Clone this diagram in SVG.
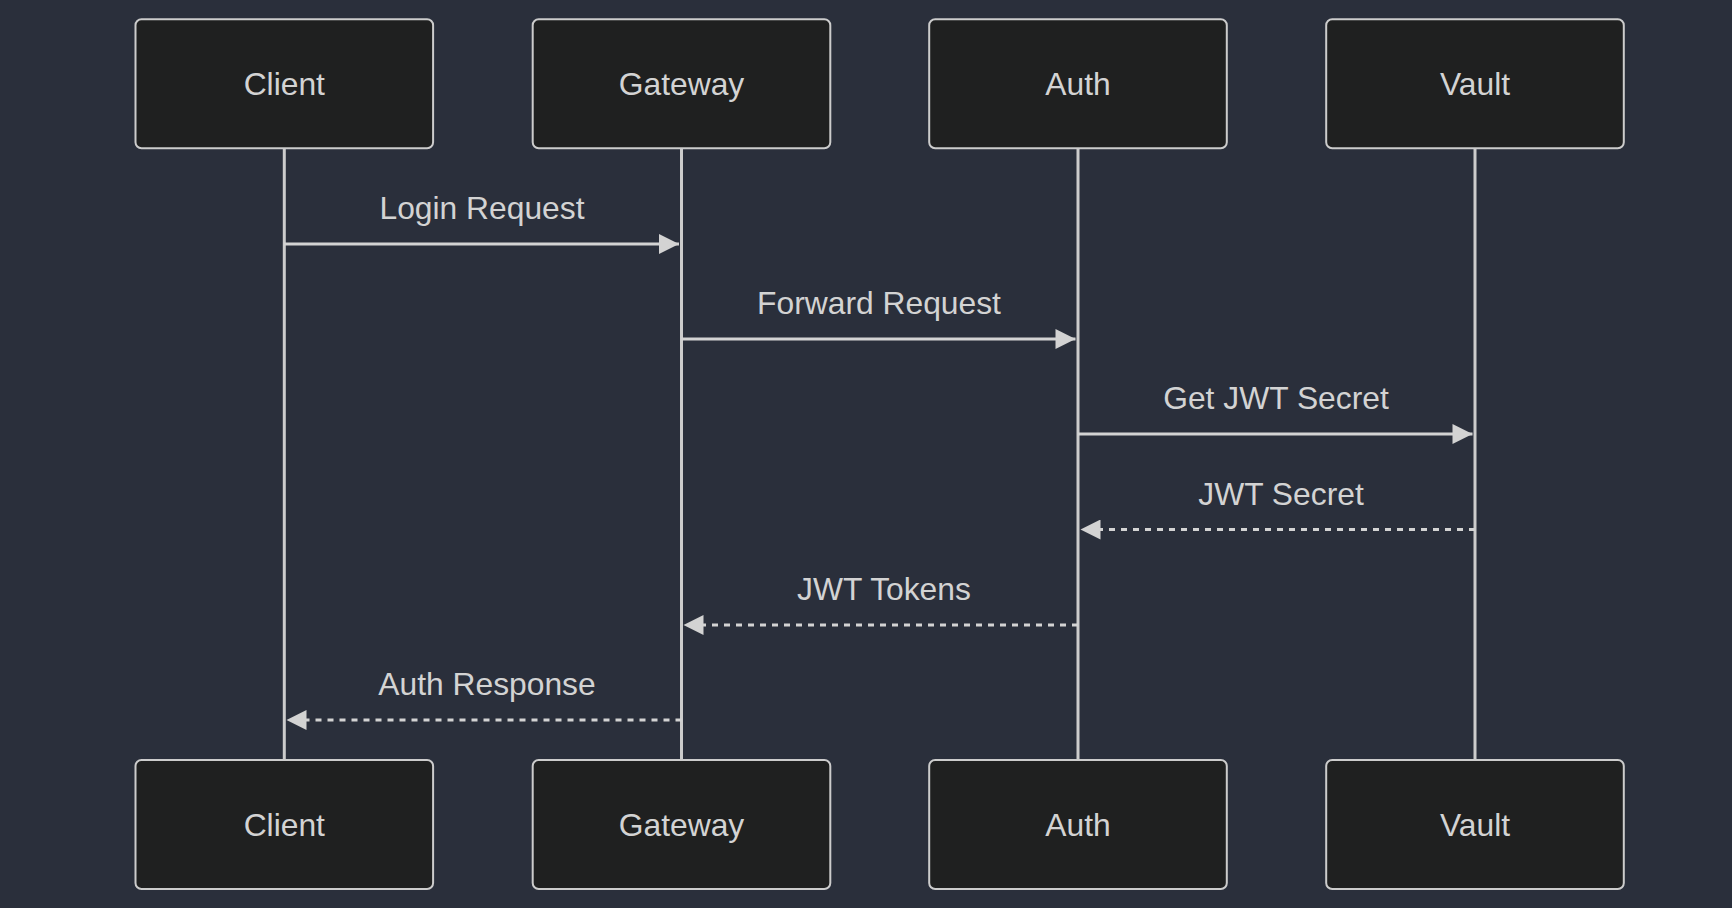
<svg xmlns="http://www.w3.org/2000/svg" width="1732" height="908" viewBox="0 0 1732 908">
  <defs>
    <style>
      .actor { fill: #1f2020; stroke: #cccccc; stroke-width: 2; }
      .actor-text { fill: #d3d3d3; font-family: "Liberation Sans", Arial, sans-serif; font-size: 31.8px; text-anchor: middle; }
      .lifeline { stroke: #cccccc; stroke-width: 3; }
      .msg { stroke: #d3d3d3; stroke-width: 3; fill: none; marker-end: url(#arrow); }
      .dotted { stroke-dasharray: 6 6; }
      .msg-text { fill: #d3d3d3; font-family: "Liberation Sans", Arial, sans-serif; font-size: 31.8px; text-anchor: middle; }
    </style>
    <marker id="arrow" viewBox="0 0 10 10" refX="10" refY="5" markerUnits="userSpaceOnUse" markerWidth="21" markerHeight="20" orient="auto">
      <path d="M0,0 L10,5 L0,10 z" fill="#d3d3d3"/>
    </marker>
  </defs>
  <rect x="0" y="0" width="1732" height="908" fill="#2a2f3b"/>

  <g id="lifelines">
    <line class="lifeline" x1="284.3" y1="148" x2="284.3" y2="760"/>
    <line class="lifeline" x1="681.5" y1="148" x2="681.5" y2="760"/>
    <line class="lifeline" x1="1078" y1="148" x2="1078" y2="760"/>
    <line class="lifeline" x1="1475" y1="148" x2="1475" y2="760"/>
  </g>

  <g id="actor-client-top">
    <rect class="actor" x="135.5" y="19.3" width="297.6" height="129" rx="6" ry="6"/>
    <text class="actor-text" x="284.3" y="95">Client</text>
  </g>
  <g id="actor-gateway-top">
    <rect class="actor" x="532.7" y="19.3" width="297.6" height="129" rx="6" ry="6"/>
    <text class="actor-text" x="681.5" y="95">Gateway</text>
  </g>
  <g id="actor-auth-top">
    <rect class="actor" x="929.2" y="19.3" width="297.6" height="129" rx="6" ry="6"/>
    <text class="actor-text" x="1078" y="95">Auth</text>
  </g>
  <g id="actor-vault-top">
    <rect class="actor" x="1326.2" y="19.3" width="297.6" height="129" rx="6" ry="6"/>
    <text class="actor-text" x="1475" y="95">Vault</text>
  </g>

  <g id="actor-client-bottom">
    <rect class="actor" x="135.5" y="760" width="297.6" height="129" rx="6" ry="6"/>
    <text class="actor-text" x="284.3" y="835.7">Client</text>
  </g>
  <g id="actor-gateway-bottom">
    <rect class="actor" x="532.7" y="760" width="297.6" height="129" rx="6" ry="6"/>
    <text class="actor-text" x="681.5" y="835.7">Gateway</text>
  </g>
  <g id="actor-auth-bottom">
    <rect class="actor" x="929.2" y="760" width="297.6" height="129" rx="6" ry="6"/>
    <text class="actor-text" x="1078" y="835.7">Auth</text>
  </g>
  <g id="actor-vault-bottom">
    <rect class="actor" x="1326.2" y="760" width="297.6" height="129" rx="6" ry="6"/>
    <text class="actor-text" x="1475" y="835.7">Vault</text>
  </g>

  <g id="messages">
    <line class="msg" x1="284.3" y1="244" x2="679" y2="244"/>
    <text class="msg-text" x="482" y="219">Login Request</text>

    <line class="msg" x1="681.5" y1="339" x2="1075.5" y2="339"/>
    <text class="msg-text" x="879" y="314">Forward Request</text>

    <line class="msg" x1="1078" y1="434" x2="1472.5" y2="434"/>
    <text class="msg-text" x="1276" y="409">Get JWT Secret</text>

    <line class="msg dotted" x1="1475" y1="529.5" x2="1080.5" y2="529.5"/>
    <text class="msg-text" x="1281" y="504.5">JWT Secret</text>

    <line class="msg dotted" x1="1078" y1="625" x2="683.5" y2="625"/>
    <text class="msg-text" x="884" y="600">JWT Tokens</text>

    <line class="msg dotted" x1="681.5" y1="720" x2="286.5" y2="720"/>
    <text class="msg-text" x="487" y="695">Auth Response</text>
  </g>
</svg>
